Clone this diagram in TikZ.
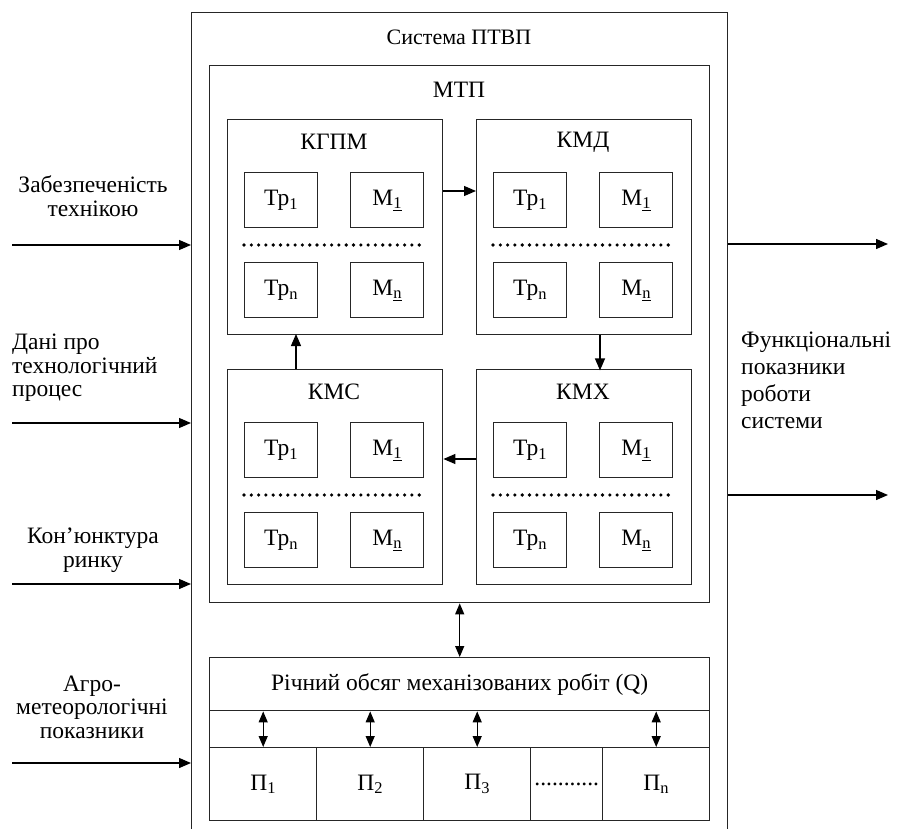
\documentclass[tikz,border=0pt]{standalone}
\usepackage{fontspec}
\setmainfont{Liberation Serif}
\usetikzlibrary{arrows.meta,calc}

% One subsystem block: name, top-left x, top-left y, title
\newcommand\subsys[4]{%
  \node[frame, minimum width=215pt, minimum height=215pt] (#1) at (#2,#3) {};
  \node[txt] (#1-t) at ($(#1.north west)+(107,23)$) {#4};
  \node[frame, txt, cell] (#1-a) at ($(#1.north west)+(17,53)$) {Тр\textsubscript{1}};
  \node[frame, txt, cell] (#1-b) at ($(#1.north west)+(123,53)$) {М\textsubscript{\underline{1}}};
  \node[frame, txt, cell] (#1-c) at ($(#1.north west)+(17,143)$) {Тр\textsubscript{n}};
  \node[frame, txt, cell] (#1-d) at ($(#1.north west)+(123,143)$) {М\textsubscript{\underline{n}}};
  \draw[dots] ($(#1.north west)+(17,126)$) -- ($(#1.north west)+(197,126)$);
}

\begin{document}
\begin{tikzpicture}[x=1pt,y=-1pt,
  frame/.style={draw=black!85, line width=1.4pt, inner sep=0pt, anchor=north west},
  cell/.style={minimum width=73pt, minimum height=55pt},
  txt/.style={font=\fontsize{23.5}{23.5}\selectfont, inner sep=0pt},
  arr/.style={-{Triangle[length=12pt,width=10pt]}, line width=1.3pt},
  darr/.style={{Triangle[length=11pt,width=9pt]}-{Triangle[length=11pt,width=9pt]}, line width=1.3pt},
  dots/.style={line width=3.6pt, line cap=round, dash pattern=on 0pt off 7.3pt}]
\useasboundingbox (0,0) rectangle (907,829);
\clip (0,0) rectangle (907,829);

% outer system frame (runs past the lower edge)
\node[frame, minimum width=536pt, minimum height=840pt] (sys) at (191,12) {};
\node[txt, font=\fontsize{22}{23.5}\selectfont] (sys-t) at (459,37) {Система ПТВП};

% machine-tractor park
\node[frame, minimum width=500pt, minimum height=537pt] (mtp) at (209,65) {};
\node[txt] (mtp-t) at (459,90) {МТП};

\subsys{kgpm}{227}{119}{КГПМ}
\subsys{kmd}{476}{119}{КМД}
\subsys{kmc}{227}{369}{КМС}
\subsys{kmx}{476}{369}{КМХ}

% cycle between the subsystems
\draw[arr] ($(kgpm.north east)+(0,72)$) -- ($(kmd.north west)+(0,72)$);
\draw[arr] ($(kmd.south west)+(124,0)$) -- ($(kmd.south west)+(124,35)$);
\draw[arr] ($(kmx.north west)+(0,90)$) -- ($(kmc.north east)+(0,90)$);
\draw[arr] ($(kmc.north west)+(69,0)$) -- ($(kmc.north west)+(69,-35)$);

% annual volume of work and its periods
\node[frame, txt, minimum width=500pt, minimum height=53pt] (q) at (209,657) {Річний обсяг механізованих робіт (Q)};
\node[frame, minimum width=500pt, minimum height=37pt] (band) at (209,710) {};
\node[frame, txt, minimum width=107pt, minimum height=73pt] (p1) at (209,747) {П\textsubscript{1}};
\node[frame, txt, minimum width=107pt, minimum height=73pt] (p2) at (316,747) {П\textsubscript{2}};
\node[frame, txt, minimum width=107pt, minimum height=73pt] (p3) at (423,747) {П\textsubscript{3}};
\node[frame, txt, minimum width=72pt, minimum height=73pt] (pd) at (530,747) {...........};
\node[frame, txt, minimum width=107pt, minimum height=73pt] (pn) at (602,747) {П\textsubscript{n}};

\draw[darr] (mtp.south) -- (q.north);
\draw[darr] (q.south -| p1.north) -- (p1.north);
\draw[darr] (q.south -| p2.north) -- (p2.north);
\draw[darr] (q.south -| p3.north) -- (p3.north);
\draw[darr] (q.south -| pn.north) -- (pn.north);

% inputs
\node[txt, align=center] (l1) at (93,196) {Забезпеченість\\технікою};
\node[txt, align=left, anchor=west] (l2) at (12,368) {Дані про\\технологічний\\процес};
\node[txt, align=center] (l3) at (93,550) {Кон’юнктура\\ринку};
\node[txt, align=center] (l4) at (92,707) {Агро-\\метеорологічні\\показники};
\coordinate (i1) at (12,245);
\coordinate (i2) at (12,423);
\coordinate (i3) at (12,584);
\coordinate (i4) at (12,763);
\foreach \c in {i1,i2,i3,i4} \draw[arr] (\c) -- (\c -| sys.west);

% outputs
\node[txt, align=left, anchor=west, font=\fontsize{23.5}{27}\selectfont] (r1) at (741,380) {Функціональні\\показники\\роботи\\системи};
\coordinate (o1) at (888,244);
\coordinate (o2) at (888,495);
\foreach \c in {o1,o2} \draw[arr] (\c -| sys.east) -- (\c);
\end{tikzpicture}
\end{document}
